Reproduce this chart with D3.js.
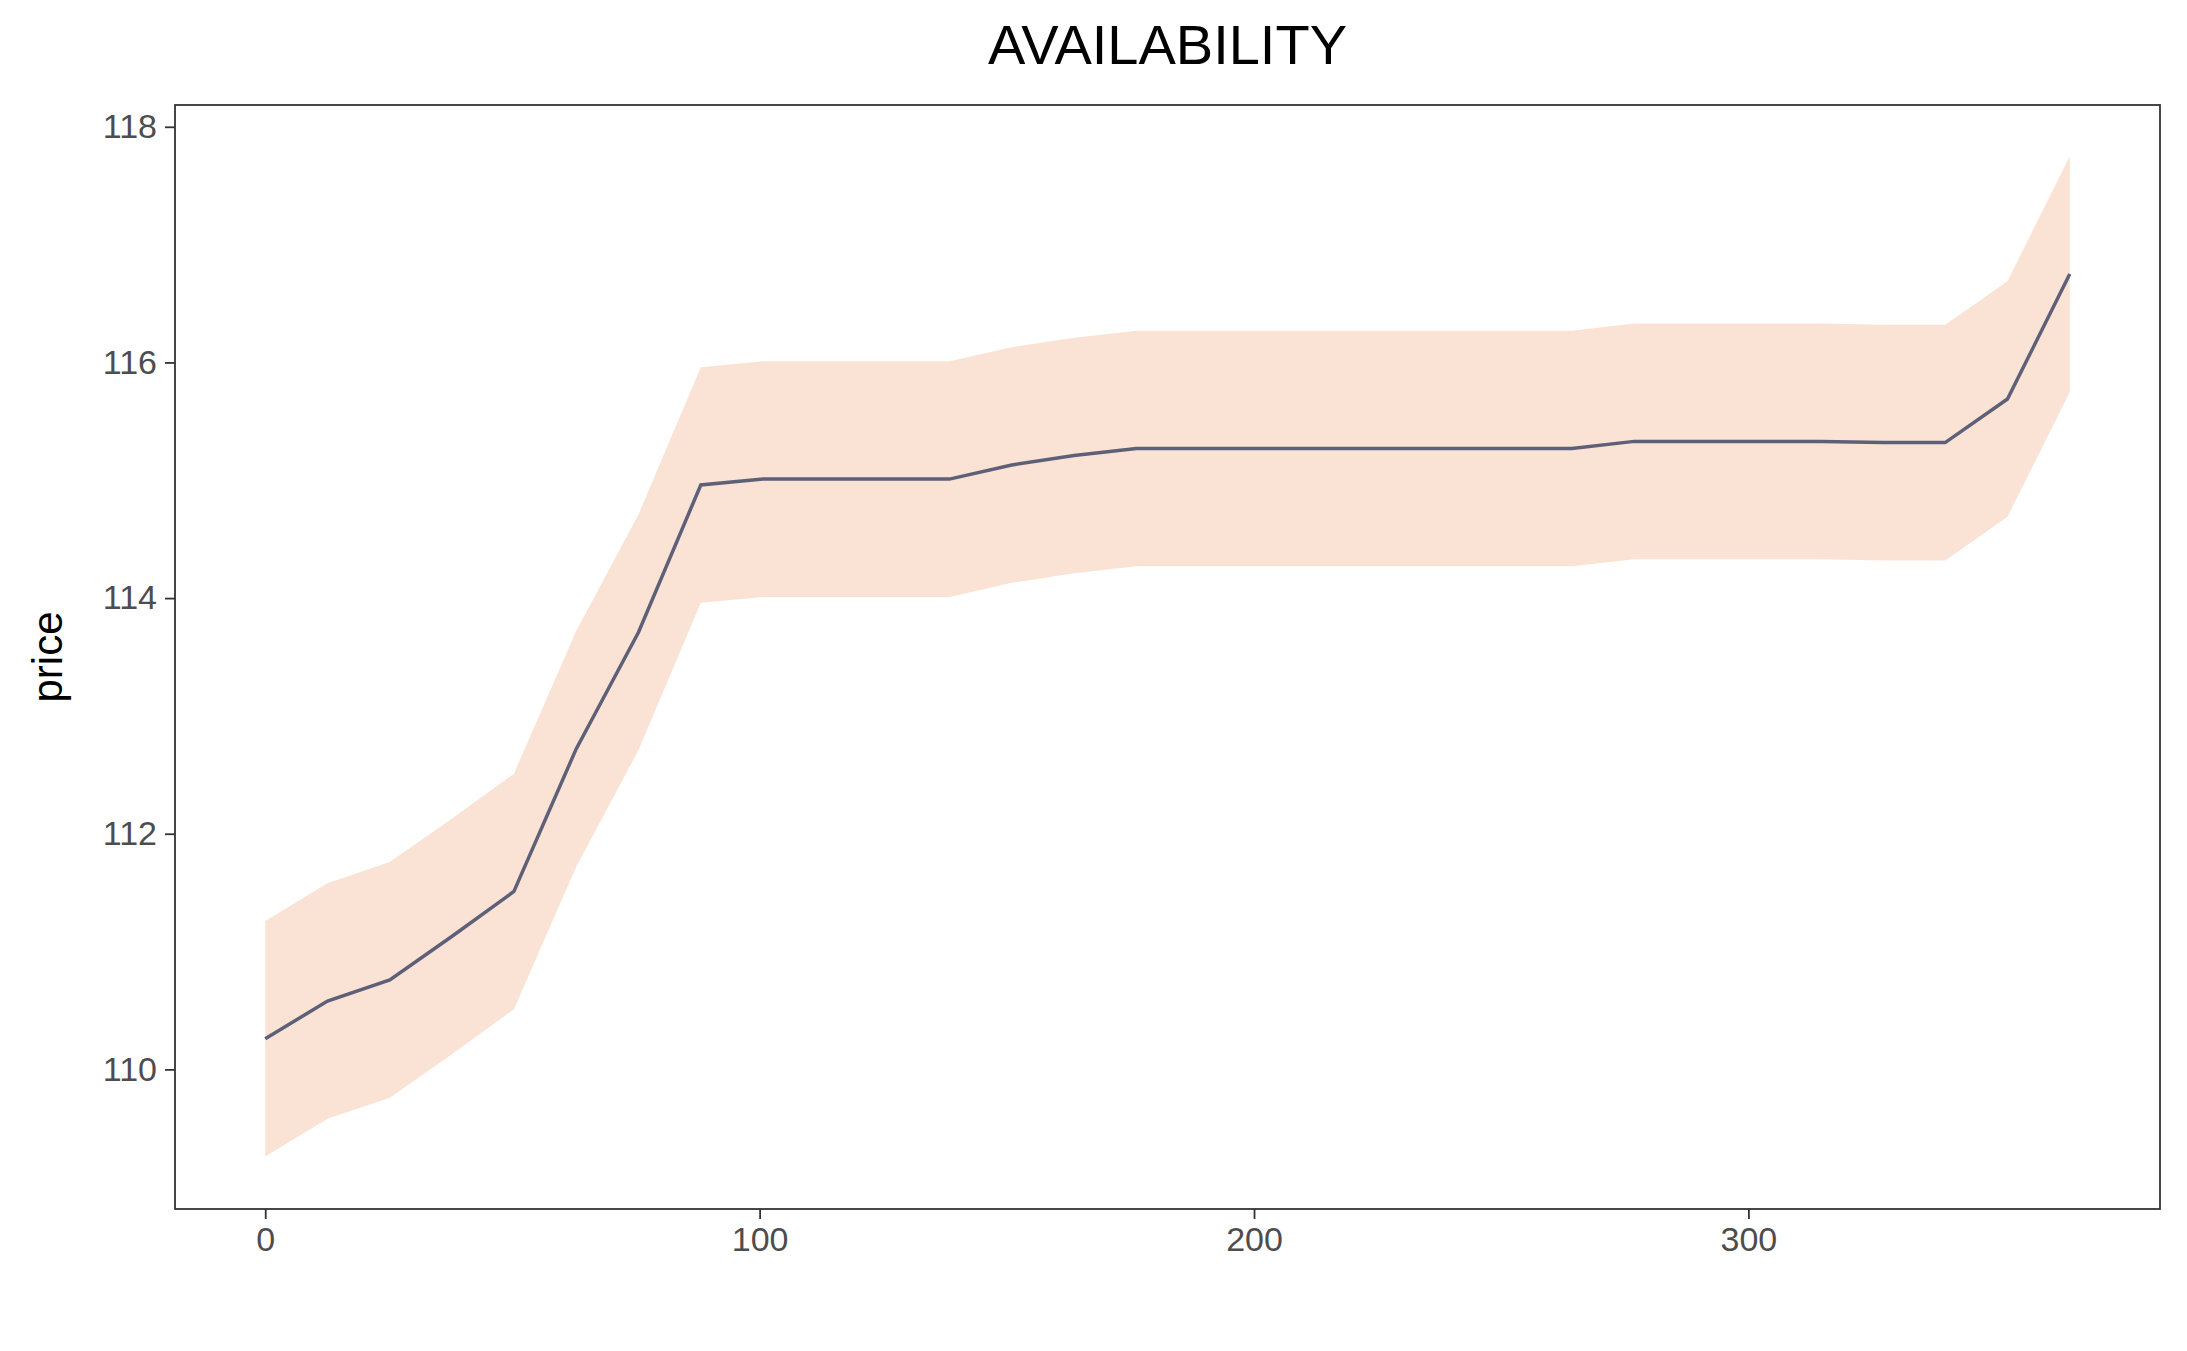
<!DOCTYPE html>
<html><head><meta charset="utf-8">
<script src="https://cdn.jsdelivr.net/npm/d3@7"></script>
<style>body{margin:0;background:#fff}text{font-family:"Liberation Sans",Arial,sans-serif}</style>
</head><body><div id="chart"></div>
<script>
var days = [0,12.6,25.2,37.8,50.3,62.9,75.5,88.1,100.7,113.3,125.9,138.4,151,163.6,176.2,188.8,201.4,214,226.6,239.1,251.7,264.3,276.9,289.5,302.1,314.7,327.2,339.8,352.4,365];
var price = [110.26,110.58,110.76,111.13,111.51,112.72,113.71,114.96,115.01,115.01,115.01,115.01,115.13,115.21,115.27,115.27,115.27,115.27,115.27,115.27,115.27,115.27,115.33,115.33,115.33,115.33,115.32,115.32,115.69,116.75];
var lower = [109.26,109.58,109.76,110.13,110.51,111.72,112.71,113.96,114.01,114.01,114.01,114.01,114.13,114.21,114.27,114.27,114.27,114.27,114.27,114.27,114.27,114.27,114.33,114.33,114.33,114.33,114.32,114.32,114.69,115.75];
var upper = [111.26,111.58,111.76,112.13,112.51,113.72,114.71,115.96,116.01,116.01,116.01,116.01,116.13,116.21,116.27,116.27,116.27,116.27,116.27,116.27,116.27,116.27,116.33,116.33,116.33,116.33,116.32,116.32,116.69,117.75];
var xTicks = [0,100,200,300];
var yTicks = [110,112,114,116,118];

var W = 2187, H = 1351;
var m = {left:175, right:27, top:105, bottom:142};
var svg = d3.select("#chart").append("svg").attr("width",W).attr("height",H);
var x = d3.scaleLinear().domain([-18.25,383.25]).range([m.left, W-m.right]);
var y = d3.scaleLinear().domain([108.815,118.185]).range([H-m.bottom, m.top]);
var rows = days.map(function(d,i){ return {d:d, p:price[i], lo:lower[i], hi:upper[i]}; });

svg.append("path").datum(rows).attr("fill","#fae3d5")
	.attr("d", d3.area().x(function(r){return x(r.d);}).y0(function(r){return y(r.lo);}).y1(function(r){return y(r.hi);}));
svg.append("path").datum(rows).attr("fill","none").attr("stroke","#5e6078").attr("stroke-width",3.5)
	.attr("d", d3.line().x(function(r){return x(r.d);}).y(function(r){return y(r.p);}));

svg.append("rect").attr("x",m.left).attr("y",m.top).attr("width",W-m.left-m.right).attr("height",H-m.top-m.bottom)
	.attr("fill","none").attr("stroke","#333").attr("stroke-width",1.8);

var gx = svg.append("g").attr("transform","translate(0,"+(H-m.bottom)+")")
	.call(d3.axisBottom(x).tickValues(xTicks).tickSize(10).tickPadding(8));
var gy = svg.append("g").attr("transform","translate("+m.left+",0)")
	.call(d3.axisLeft(y).tickValues(yTicks).tickSize(10).tickPadding(8));
[gx,gy].forEach(function(g){
	g.select(".domain").remove();
	g.selectAll("line").attr("stroke","#333").attr("stroke-width",1.8);
	g.selectAll("text").attr("fill","#4d4d4d").style("font-size","34px");
});

svg.append("text").attr("x",(m.left+W-m.right)/2).attr("y",64).attr("text-anchor","middle")
	.style("font-size","56px").text("AVAILABILITY");
svg.append("text").attr("transform","translate(62,"+((m.top+H-m.bottom)/2)+") rotate(-90)")
	.attr("text-anchor","middle").style("font-size","42px").text("price");
</script></body></html>
